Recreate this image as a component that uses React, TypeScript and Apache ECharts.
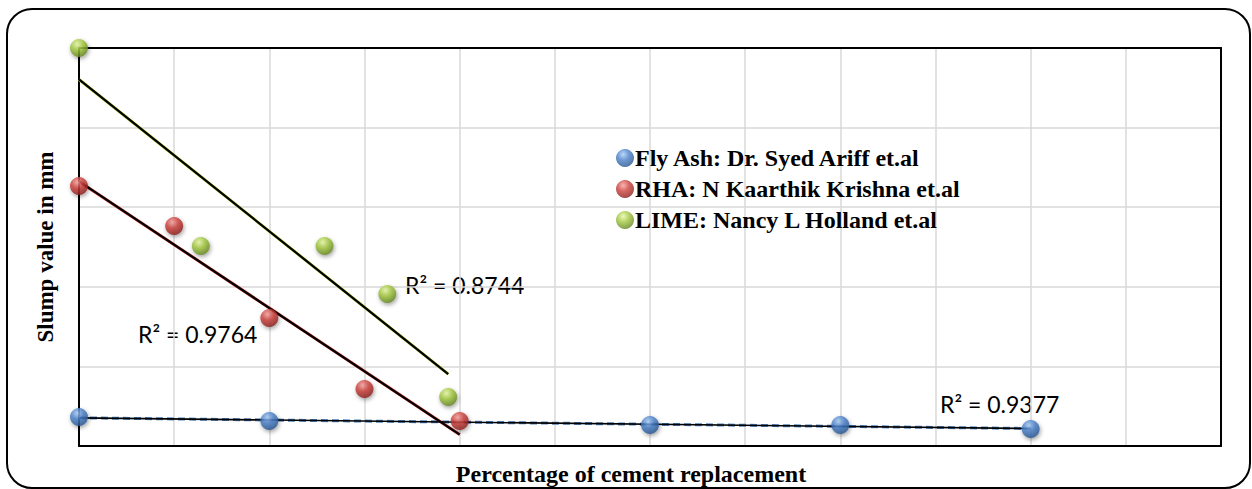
import React, { useEffect, useRef } from "react";
import * as echarts from "echarts";

const flyAshX = [0, 10, 30, 40, 50];
const flyAshY = [18.2, 15.7, 13.2, 13.2, 10.7];
const rhaX = [0, 5, 10, 15, 20];
const rhaY = [163.3, 138.2, 80.4, 35.8, 15.7];
const limeX = [0, 6.4, 12.9, 16.2, 19.4];
const limeY = [250, 125.6, 125.6, 95.5, 30.8];

const seriesNames = [
  "Fly Ash: Dr. Syed Ariff et.al",
  "RHA: N Kaarthik Krishna et.al",
  "LIME: Nancy L Holland et.al",
];
const r2Labels = ["R² = 0.9377", "R² = 0.9764", "R² = 0.8744"];

function fit(xs: number[], ys: number[]) {
  const n = xs.length;
  const mx = xs.reduce((a, b) => a + b, 0) / n;
  const my = ys.reduce((a, b) => a + b, 0) / n;
  let sxy = 0, sxx = 0;
  for (let i = 0; i < n; i++) {
    sxy += (xs[i] - mx) * (ys[i] - my);
    sxx += (xs[i] - mx) ** 2;
  }
  const slope = sxy / sxx;
  const icpt = my - slope * mx;
  const x0 = Math.min(...xs), x1 = Math.max(...xs);
  return [[x0, icpt + slope * x0], [x1, icpt + slope * x1]];
}

function sphere(light: string, base: string, dark: string) {
  return {
    type: "radial", x: 0.4, y: 0.3, r: 0.8,
    colorStops: [
      { offset: 0, color: light },
      { offset: 0.4, color: base },
      { offset: 1, color: dark },
    ],
  } as any;
}

const colors = [
  sphere("#a9ccf5", "#4a80c8", "#1f4a80"),
  sphere("#f5a3a0", "#cc403c", "#7a1512"),
  sphere("#e8f6a8", "#a2c83e", "#56741a"),
];

export default function App() {
  const ref = useRef<HTMLDivElement>(null);
  useEffect(() => {
    const chart = echarts.init(ref.current!, undefined, { renderer: "svg" });
    const pts = (xs: number[], ys: number[]) => xs.map((x, i) => [x, ys[i]]);
    const scatter = (name: string, data: number[][], color: any) => ({
      name, type: "scatter", data, symbolSize: 18, z: 5,
      itemStyle: {
        color, shadowBlur: 4, shadowColor: "rgba(0,0,0,0.45)", shadowOffsetX: 1, shadowOffsetY: 2,
      },
    });
    const line = (data: number[][], color: string, width: number, type: any, z: number) => ({
      type: "line", data, symbol: "none", z, silent: true,
      lineStyle: { color, width, type }, tooltip: { show: false },
    });
    const fa = fit(flyAshX, flyAshY);
    const rh = fit(rhaX, rhaY);
    const li = fit(limeX, limeY);
    const serifTitle = { fontFamily: "Liberation Serif", fontWeight: "bold", color: "#000" };
    const r2Style = { fontFamily: "Lato", fontSize: 23, fill: "#000", verticalAlign: "middle" };
    const frameAxis = {
      axisLine: { show: true, onZero: false, lineStyle: { color: "#000", width: 2 } },
      axisTick: { show: false }, axisLabel: { show: false }, splitLine: { show: false },
    };
    chart.setOption({
      animation: false,
      grid: {
        left: 79, top: 48, right: 31, bottom: 43,
        outerBoundsMode: "none", containLabel: false,
      },
      xAxis: [{
        type: "value", min: 0, max: 60, interval: 5,
        axisLine: { show: true, lineStyle: { color: "#000", width: 2 } },
        axisTick: { show: false }, axisLabel: { show: false },
        splitLine: { show: true, lineStyle: { color: "#d9d9d9", width: 1.5 } },
        name: "Percentage of cement replacement", nameLocation: "middle", nameGap: 16,
        nameTextStyle: { ...serifTitle, fontSize: 24, padding: [0, 38, 0, 0] },
      }, { type: "value", position: "top", min: 0, max: 60, ...frameAxis }],
      yAxis: [{
        type: "value", min: 0, max: 250, interval: 50,
        axisLine: { show: true, lineStyle: { color: "#000", width: 2 } },
        axisTick: { show: false }, axisLabel: { show: false },
        splitLine: { show: true, lineStyle: { color: "#d9d9d9", width: 1.5 } },
        name: "Slump value in mm", nameLocation: "middle", nameGap: 22,
        nameTextStyle: { ...serifTitle, fontSize: 23 },
      }, { type: "value", position: "right", min: 0, max: 250, ...frameAxis }],
      legend: {
        orient: "vertical", left: 611, top: 141, itemGap: 7, itemWidth: 18, itemHeight: 18,
        icon: "circle", data: seriesNames,
        textStyle: { ...serifTitle, fontSize: 24, lineHeight: 24, padding: [0, 0, 0, -4] },
      },
      series: [
        line(fa, "#4f81bd", 3, [7, 4], 2),
        line(fa, "#000", 1.6, "solid", 3),
        line(rh, "#e0403c", 3, "solid", 2),
        line(rh, "#000", 2.2, "solid", 3),
        line(li, "#b5d334", 3, "solid", 2),
        line(li, "#000", 2.2, "solid", 3),
        scatter(seriesNames[0], pts(flyAshX, flyAshY), colors[0]),
        scatter(seriesNames[1], pts(rhaX, rhaY), colors[1]),
        scatter(seriesNames[2], pts(limeX, limeY), colors[2]),
      ],
      graphic: [
        { type: "rect", shape: { x: 7, y: 9, width: 1243, height: 479, r: 25 },
          style: { fill: "none", stroke: "#000", lineWidth: 2 }, z: -1 },
        { type: "text", x: 940, y: 404, style: { text: r2Labels[0], ...r2Style } },
        { type: "text", x: 138, y: 334, style: { text: r2Labels[1], ...r2Style } },
        { type: "text", x: 405, y: 285, style: { text: r2Labels[2], ...r2Style } },
      ],
    });
    return () => chart.dispose();
  }, []);
  return <div ref={ref} style={{ position: "fixed", left: 0, top: 0, width: 1252, height: 489, background: "#fff" }} />;
}
